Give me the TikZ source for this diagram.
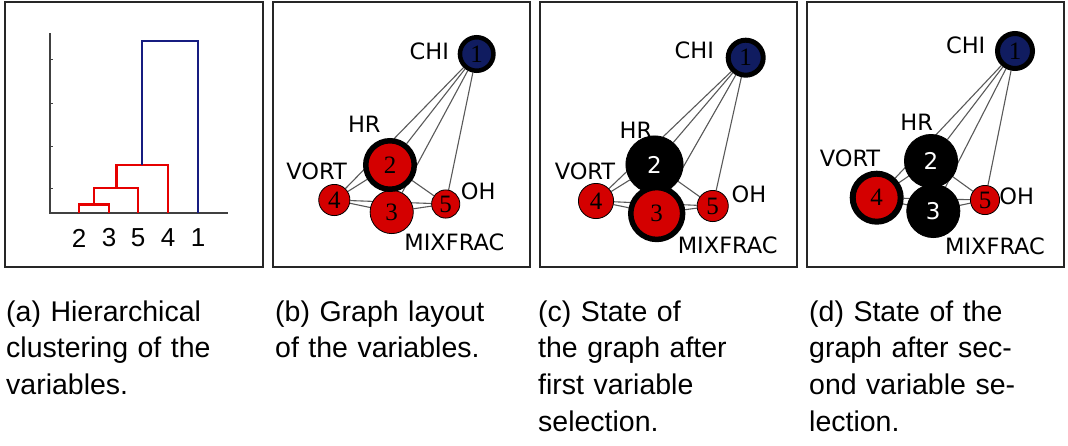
\documentclass[tikz,border=0pt]{standalone}
\usepackage{fontspec}
\setmainfont{Liberation Sans}
\newfontfamily\graphfont{DejaVu Sans}
\newfontfamily\numfont{Liberation Serif}
\usetikzlibrary{backgrounds}

\definecolor{dendred}{RGB}{230,0,0}
\definecolor{dendblue}{RGB}{22,28,128}
\definecolor{varred}{RGB}{212,0,0}
\definecolor{varblue}{RGB}{16,28,96}

% one justified caption line, spaces stretched to the column
\newcommand\capline[1]{\makebox[231pt][s]{#1}}

\begin{document}
\begin{tikzpicture}[
    x=1pt, y=-1pt,
    % panel and dendrogram styles
    panel/.style={draw=black!85, line width=1.5},
    axis/.style={draw=black!75, line width=1.5},
    link/.style={line width=2.5, dendred},
    toplink/.style={line width=2.5, dendblue},
    leaf/.style={font=\fontsize{26}{26}\selectfont, inner sep=0},
    % graph styles
    var/.style={circle, draw=black, line width=0.8, fill=varred, inner sep=0, font=\numfont\fontsize{25}{25}\selectfont},
    chi/.style={var, fill=varblue},
    picked/.style={fill=black, text=white, font=\graphfont\fontsize{23}{23}\selectfont},
    ring/.style={line width=#1}, ring/.default=5,
    vname/.style={font=\graphfont\fontsize{22.5}{22.5}\selectfont, inner sep=0},
    edge/.style={draw=black!65, line width=1.1},
    caption/.style={anchor=base west, inner sep=0, text width=231pt,
        font=\fontsize{28.5}{36.7}\selectfont},
]
\useasboundingbox (0,0) rectangle (1068,445);

% Panel frames
\draw[panel] (5,2) rectangle (263,267);
\draw[panel] (273,2) rectangle (530,267);
\draw[panel] (540,2) rectangle (797,267);
\draw[panel] (807,2) rectangle (1064,267);

% (a) dendrogram
\draw[axis] (50,33) -- (50,213) -- (228,213);
\foreach \y in {59,103,146,188}
    \draw[axis, line width=1] (50,\y) -- (53,\y);
\draw[link] (79,213) -- (79,204.5) -- (109,204.5) -- (109,213);
\draw[link] (94,204.5) -- (94,188) -- (138,188) -- (138,213);
\draw[link] (116.5,188) -- (116.5,165) -- (168,165) -- (168,213);
\draw[toplink] (142,165) -- (142,41) -- (198,41) -- (198,213);
\node[leaf] (leaf2) at (79,238) {2};
\node[leaf] (leaf3) at (109,238) {3};
\node[leaf] (leaf5) at (138,238) {5};
\node[leaf] (leaf4) at (168,238) {4};
\node[leaf] (leaf1) at (198,238) {1};

% (b) graph layout
\node[chi, ring=4.5, minimum size=33.5pt] (b1) at (476.7,54) {1};
\node[var, minimum size=43.2pt] (b3) at (391.7,212) {3};
\node[var, ring=5.5, minimum size=48.5pt] (b2) at (390,165) {2};
\node[var, minimum size=31.2pt] (b4) at (334.3,200) {4};
\node[var, minimum size=28.2pt] (b5) at (445.7,204) {5};
\node[vname] (bchi) at (429.3,51.7) {CHI};
\node[vname] (bhr) at (364.3,124) {HR};
\node[vname] (bvort) at (316.7,171.7) {VORT};
\node[vname] (boh) at (478.3,191.7) {OH};
\node[vname] (bmix) at (454.3,242.7) {MIXFRAC};

% (c) after first selection
\node[chi, ring, minimum size=35pt] (c1) at (745.7,57.7) {1};
\node[var, picked, minimum size=57.2pt] (c2) at (654.5,164.5) {2};
\node[var, ring=5.5, minimum size=51.9pt] (c3) at (656.7,213.5) {3};
\node[var, minimum size=35.2pt] (c4) at (596,201) {4};
\node[var, minimum size=31.2pt] (c5) at (712.7,206) {5};
\node[vname] (cchi) at (694.3,50) {CHI};
\node[vname] (chr) at (636,130) {HR};
\node[vname] (cvort) at (585,171.7) {VORT};
\node[vname] (coh) at (749,194.3) {OH};
\node[vname] (cmix) at (727.7,245) {MIXFRAC};

% (d) after second selection
\node[chi, ring, minimum size=35pt] (d1) at (1015,51) {1};
\node[var, picked, minimum size=53.2pt] (d2) at (931,161) {2};
\node[var, picked, minimum size=53.2pt] (d3) at (933.3,211) {3};
\node[var, ring=6, minimum size=48pt] (d4) at (876.7,197.7) {4};
\node[var, minimum size=29.2pt] (d5) at (985,200) {5};
\node[vname] (dchi) at (965.7,45.7) {CHI};
\node[vname] (dhr) at (916.7,122.7) {HR};
\node[vname] (dvort) at (850,158.3) {VORT};
\node[vname] (doh) at (1016.7,196.7) {OH};
\node[vname] (dmix) at (995,246) {MIXFRAC};

% Edges behind the variables
\begin{scope}[on background layer]
\foreach \p in {b,c,d}
    \foreach \a/\b in {1/2,1/3,1/4,1/5,2/3,2/4,2/5,3/4,3/5,4/5}
        \draw[edge] (\p\a) -- (\p\b);
\end{scope}

% Captions
\node[caption] (capa) at (6,321) {\capline{(a) Hierarchical}\\ \capline{clustering of the}\\ variables.};
\node[caption] (capb) at (275,321) {\capline{(b) Graph layout}\\ of the variables.};
\node[caption] (capc) at (538,321) {\capline{(c) State of}\\ \capline{the graph after}\\ \capline{first variable}\\ selection.};
\node[caption] (capd) at (809,321) {\capline{(d) State of the}\\ \capline{graph after sec-}\\ \capline{ond variable se-}\\ lection.};

\end{tikzpicture}
\end{document}
